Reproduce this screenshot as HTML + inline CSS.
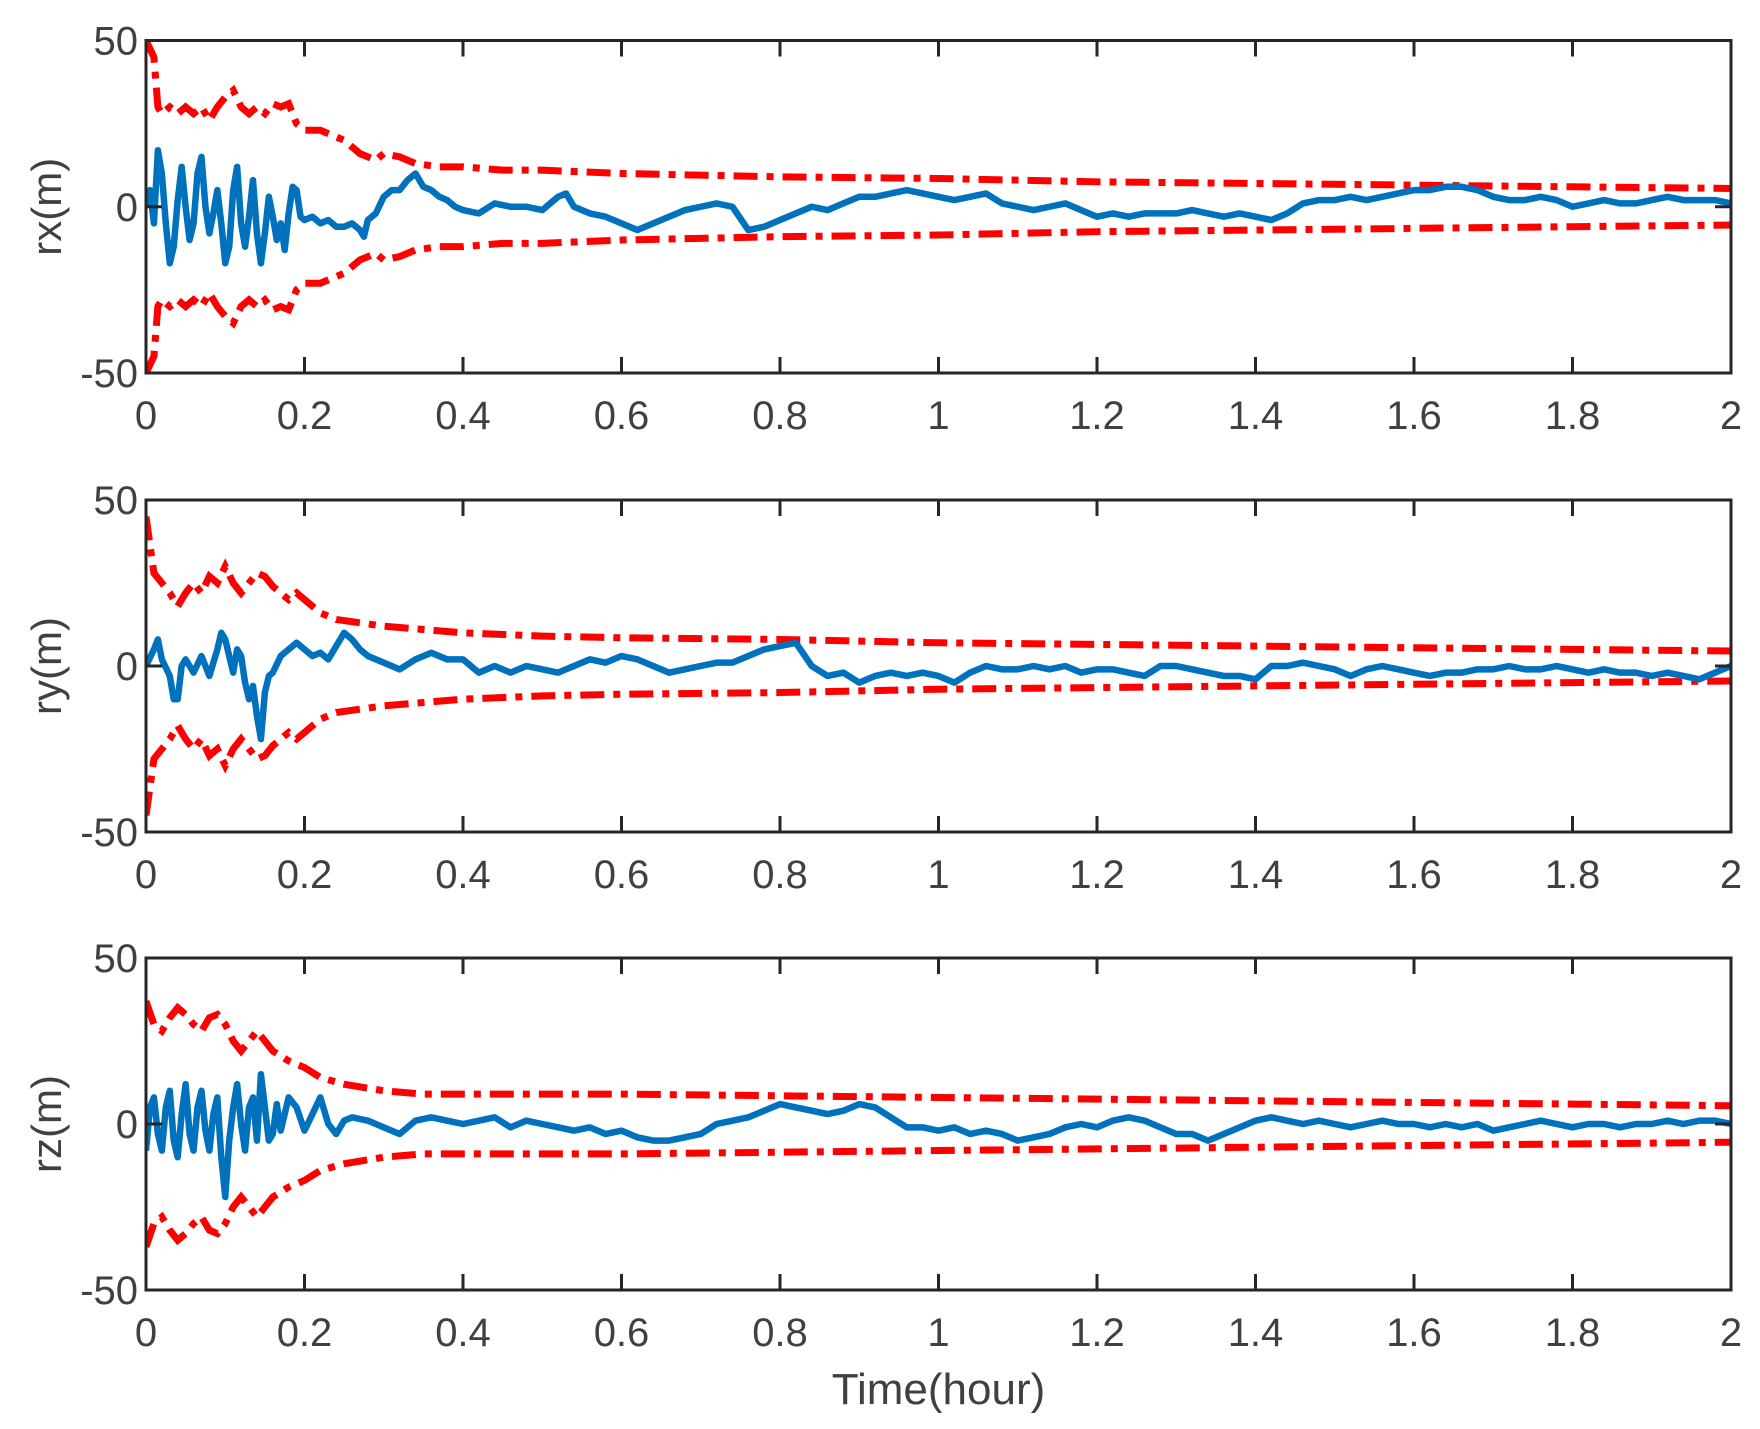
<!DOCTYPE html>
<html><head><meta charset="utf-8"><style>
html,body{margin:0;padding:0;background:#fff;}
svg{display:block;}
text{font-family:"Liberation Sans",Arial,sans-serif;fill:#404040;}
</style></head><body>
<svg id="chart" width="1760" height="1429" viewBox="0 0 1760 1429" xmlns="http://www.w3.org/2000/svg"></svg>
<script>
const xTicks = [0,0.2,0.4,0.6,0.8,1,1.2,1.4,1.6,1.8,2];
const xTickLabels = ["0","0.2","0.4","0.6","0.8","1","1.2","1.4","1.6","1.8","2"];
const yTicks = [-50,0,50];
const yTickLabels = ["-50","0","50"];
const panelLabels = ["rx(m)","ry(m)","rz(m)"];

const rxT = [0,0.005,0.01,0.015,0.02,0.025,0.03,0.035,0.04,0.045,0.05,0.055,0.06,0.065,0.07,0.075,0.08,0.085,0.09,0.095,0.1,0.105,0.11,0.115,0.12,0.125,0.13,0.135,0.14,0.145,0.15,0.155,0.16,0.165,0.17,0.175,0.18,0.185,0.19,0.195,0.2,0.21,0.22,0.23,0.24,0.25,0.26,0.27,0.275,0.28,0.29,0.3,0.31,0.32,0.33,0.34,0.35,0.36,0.37,0.38,0.39,0.4,0.42,0.44,0.46,0.48,0.5,0.52,0.53,0.54,0.56,0.58,0.6,0.62,0.64,0.66,0.68,0.7,0.72,0.74,0.76,0.78,0.8,0.82,0.84,0.86,0.88,0.9,0.92,0.94,0.96,0.98,1.0,1.02,1.04,1.06,1.08,1.1,1.12,1.14,1.16,1.18,1.2,1.22,1.24,1.26,1.28,1.3,1.32,1.34,1.36,1.38,1.4,1.42,1.44,1.46,1.48,1.5,1.52,1.54,1.56,1.58,1.6,1.62,1.64,1.66,1.68,1.7,1.72,1.74,1.76,1.78,1.8,1.82,1.84,1.86,1.88,1.9,1.92,1.94,1.96,1.98,2.0];
const rxV = [0,5,-5,17,10,-5,-17,-12,2,12,0,-10,-5,10,15,0,-8,-2,5,-5,-17,-12,5,12,-5,-12,-3,8,-8,-17,-8,3,-3,-10,-5,-13,-2,6,5,-3,-4,-3,-5,-4,-6,-6,-5,-7,-9,-4,-2,3,5,5,8,10,6,5,3,2,0,-1,-2,1,0,0,-1,3,4,0,-2,-3,-5,-7,-5,-3,-1,0,1,0,-7,-6,-4,-2,0,-1,1,3,3,4,5,4,3,2,3,4,1,0,-1,0,1,-1,-3,-2,-3,-2,-2,-2,-1,-2,-3,-2,-3,-4,-2,1,2,2,3,2,3,4,5,5,6,6,5,3,2,2,3,2,0,1,2,1,1,2,3,2,2,2,1];
const rxSigT = [0,0.01,0.015,0.02,0.03,0.04,0.05,0.06,0.07,0.08,0.09,0.1,0.11,0.12,0.13,0.14,0.15,0.16,0.17,0.18,0.19,0.2,0.22,0.23,0.25,0.27,0.29,0.3,0.32,0.34,0.37,0.4,0.45,0.5,0.6,0.7,0.8,1.0,1.2,1.4,1.6,1.8,2.0];
const rxSig = [50,45,30,28,30,28,30,28,30,26,30,33,35,30,28,30,28,31,30,31,25,23,23,22,20,16,14,16,15,13,12,12,11,11,10,9.5,9,8.5,7.5,7,6.5,6,5.5];

const ryT = [0,0.01,0.015,0.02,0.03,0.035,0.04,0.045,0.05,0.06,0.07,0.08,0.09,0.095,0.1,0.11,0.115,0.12,0.125,0.13,0.135,0.14,0.145,0.15,0.155,0.16,0.17,0.18,0.19,0.2,0.21,0.22,0.23,0.24,0.25,0.26,0.27,0.28,0.3,0.32,0.34,0.36,0.38,0.4,0.42,0.44,0.46,0.48,0.5,0.52,0.54,0.56,0.58,0.6,0.62,0.64,0.66,0.68,0.7,0.72,0.74,0.76,0.78,0.8,0.82,0.84,0.86,0.88,0.9,0.92,0.94,0.96,0.98,1.0,1.02,1.04,1.06,1.08,1.1,1.12,1.14,1.16,1.18,1.2,1.22,1.24,1.26,1.28,1.3,1.32,1.34,1.36,1.38,1.4,1.42,1.44,1.46,1.48,1.5,1.52,1.54,1.56,1.58,1.6,1.62,1.64,1.66,1.68,1.7,1.72,1.74,1.76,1.78,1.8,1.82,1.84,1.86,1.88,1.9,1.92,1.94,1.96,1.98,2.0];
const ryV = [0,5,8,2,-3,-10,-10,0,2,-2,3,-3,5,10,8,-2,5,3,-5,-10,-6,-15,-22,-8,-3,-2,3,5,7,5,3,4,2,6,10,8,5,3,1,-1,2,4,2,2,-2,0,-2,0,-1,-2,0,2,1,3,2,0,-2,-1,0,1,1,3,5,6,7,0,-3,-2,-5,-3,-2,-3,-2,-3,-5,-2,0,-1,-1,0,-1,0,-2,-1,-1,-2,-3,0,0,-1,-2,-3,-3,-4,0,0,1,0,-1,-3,-1,0,-1,-2,-3,-2,-2,-1,-1,0,-1,-1,0,-1,-2,-1,-2,-2,-3,-2,-3,-4,-2,0];
const rySigT = [0,0.01,0.02,0.03,0.04,0.05,0.06,0.07,0.08,0.09,0.1,0.11,0.12,0.13,0.14,0.15,0.16,0.17,0.18,0.19,0.2,0.22,0.24,0.27,0.3,0.35,0.4,0.5,0.6,0.8,1.0,1.2,1.4,1.6,1.8,2.0];
const rySig = [45,28,25,22,18,22,25,22,27,25,30,25,22,25,28,27,24,22,20,22,20,16,14,13,12,11,10,9,8.5,8,7,6.5,6,5.5,5,4.5];

const rzT = [0,0.005,0.01,0.015,0.02,0.025,0.03,0.035,0.04,0.045,0.05,0.055,0.06,0.065,0.07,0.075,0.08,0.085,0.09,0.095,0.1,0.105,0.11,0.115,0.12,0.125,0.13,0.135,0.14,0.145,0.15,0.155,0.16,0.165,0.17,0.175,0.18,0.19,0.2,0.21,0.22,0.23,0.24,0.25,0.26,0.28,0.3,0.32,0.34,0.36,0.38,0.4,0.42,0.44,0.46,0.48,0.5,0.52,0.54,0.56,0.58,0.6,0.62,0.64,0.66,0.68,0.7,0.72,0.74,0.76,0.78,0.8,0.82,0.84,0.86,0.88,0.9,0.92,0.94,0.96,0.98,1.0,1.02,1.04,1.06,1.08,1.1,1.12,1.14,1.16,1.18,1.2,1.22,1.24,1.26,1.28,1.3,1.32,1.34,1.36,1.38,1.4,1.42,1.44,1.46,1.48,1.5,1.52,1.54,1.56,1.58,1.6,1.62,1.64,1.66,1.68,1.7,1.72,1.74,1.76,1.78,1.8,1.82,1.84,1.86,1.88,1.9,1.92,1.94,1.96,1.98,2.0];
const rzV = [-8,5,8,-3,-8,5,10,-5,-10,3,12,-3,-8,5,10,-2,-8,3,8,-10,-22,-5,5,12,0,-8,5,8,-5,15,5,-5,-3,6,-2,3,8,5,-2,3,8,0,-3,1,2,1,-1,-3,1,2,1,0,1,2,-1,1,0,-1,-2,-1,-3,-2,-4,-5,-5,-4,-3,0,1,2,4,6,5,4,3,4,6,5,2,-1,-1,-2,-1,-3,-2,-3,-5,-4,-3,-1,0,-1,1,2,1,-1,-3,-3,-5,-3,-1,1,2,1,0,1,0,-1,0,1,0,0,-1,0,-1,0,-2,-1,0,1,0,-1,0,0,-1,0,0,1,0,1,1,0];
const rzSigT = [0,0.01,0.02,0.03,0.04,0.05,0.06,0.07,0.08,0.09,0.1,0.11,0.12,0.13,0.14,0.15,0.16,0.18,0.2,0.22,0.25,0.3,0.35,0.4,0.6,0.8,1.0,1.2,1.4,1.6,1.8,2.0];
const rzSig = [37,30,28,32,35,33,30,28,32,33,30,25,22,25,28,25,22,19,17,14,12,10,9,9,9,8.5,8,7.5,7,6.5,6,5.5];

const NS = "http://www.w3.org/2000/svg";
const svg = document.getElementById('chart');
const L = 146, R = 1731;
const panels = [
  {top:40.5, bot:373, t:rxT, v:rxV, st:rxSigT, s:rxSig},
  {top:500, bot:832, t:ryT, v:ryV, st:rySigT, s:rySig},
  {top:958, bot:1290, t:rzT, v:rzV, st:rzSigT, s:rzSig}
];
function mk(tag, attrs, parent){ const e=document.createElementNS(NS,tag); for(const k in attrs) e.setAttribute(k,attrs[k]); (parent||svg).appendChild(e); return e; }
const xs = t => L + (t/2)*(R-L);

panels.forEach((p,i)=>{
  const ys = v => p.bot - (v+50)/100*(p.bot-p.top);
  const g = mk('g',{});
  
  
  const clipId='clip'+i;
  const cp = mk('clipPath',{id:clipId},g);
  mk('rect',{x:L,y:p.top,width:R-L,height:p.bot-p.top},cp);
  const dash = '24 9 7 9';
  const up = mk('polyline',{points:p.st.map((t,k)=>xs(t)+','+ys(p.s[k])).join(' '),fill:'none',stroke:'#ff0000','stroke-width':7,'stroke-dasharray':dash,'clip-path':'url(#'+clipId+')'},g);
  
  
  const lo = mk('polyline',{points:p.st.map((t,k)=>xs(t)+','+ys(-p.s[k])).join(' '),fill:'none',stroke:'#ff0000','stroke-width':7,'stroke-dasharray':dash,'clip-path':'url(#'+clipId+')'},g);
  
  
  const ln = mk('polyline',{points:p.t.map((t,k)=>xs(t)+','+ys(p.v[k])).join(' '),fill:'none',stroke:'#0072bd','stroke-width':6.5,'stroke-linejoin':'round','clip-path':'url(#'+clipId+')'},g);
  
  
  const box = mk('rect',{x:L,y:p.top,width:R-L,height:p.bot-p.top,fill:'none',stroke:'#262626','stroke-width':3},g);
  
  
  xTicks.forEach((t,k)=>{
    const x=xs(t);
    mk('line',{x1:x,x2:x,y1:p.bot,y2:p.bot-16,stroke:'#262626','stroke-width':3},g);
    mk('line',{x1:x,x2:x,y1:p.top,y2:p.top+16,stroke:'#262626','stroke-width':3},g);
    const tx = mk('text',{x:x,y:p.bot+56,'text-anchor':'middle','font-size':40},g);
    tx.textContent = xTickLabels[k];
    
    
  });
  yTicks.forEach((v,k)=>{
    const y=ys(v);
    mk('line',{x1:L,x2:L+16,y1:y,y2:y,stroke:'#262626','stroke-width':3},g);
    mk('line',{x1:R,x2:R-16,y1:y,y2:y,stroke:'#262626','stroke-width':3},g);
    const tx = mk('text',{x:L-8,y:y+14,'text-anchor':'end','font-size':40},g);
    tx.textContent = yTickLabels[k];
    
    
  });
  const yl = mk('text',{x:0,y:0,'text-anchor':'middle','font-size':42,transform:'translate(61,'+((p.top+p.bot)/2)+') rotate(-90)'},g);
  yl.textContent = panelLabels[i];
  
  
});
const xl = mk('text',{x:(L+R)/2,y:1404,'text-anchor':'middle','font-size':44});
xl.textContent = 'Time(hour)';


</script>
</body></html>
